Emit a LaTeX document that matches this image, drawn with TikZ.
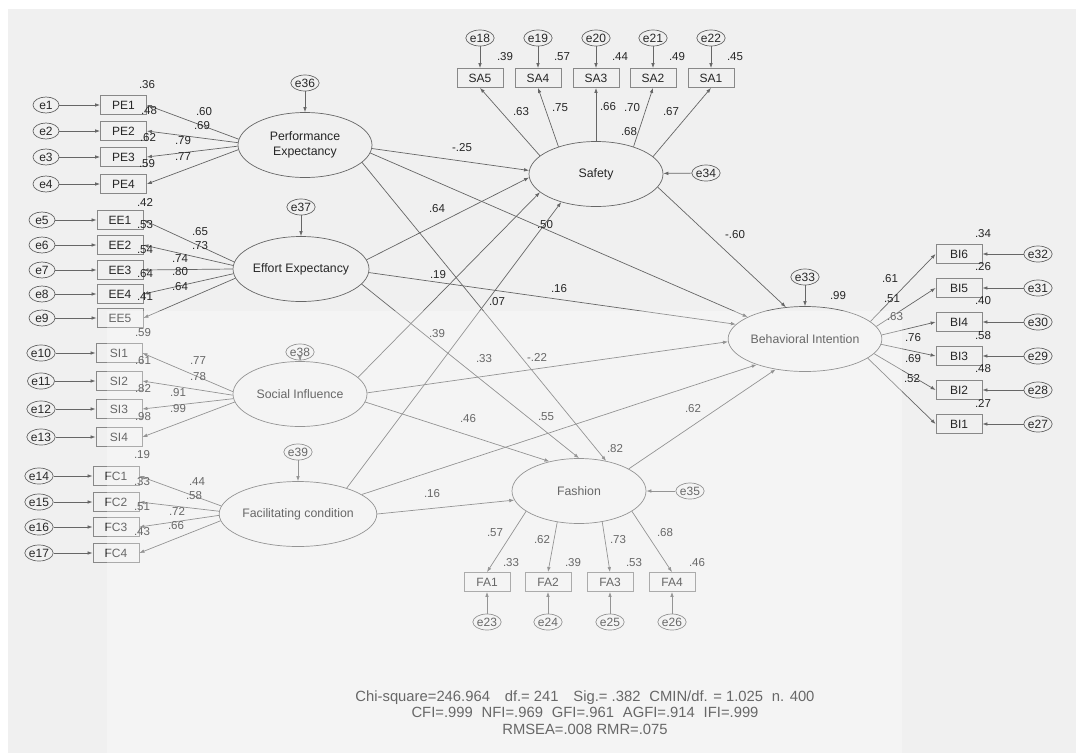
\documentclass[tikz,border=0pt]{standalone}
\usepackage{fontspec}
\setmainfont{Liberation Sans}
\usetikzlibrary{shapes.geometric,arrows.meta}
\definecolor{bgc}{HTML}{F0F0F0}
\definecolor{lc}{HTML}{666666}
\definecolor{bc}{HTML}{888888}
\definecolor{tc}{HTML}{262626}
\newcommand{\fnm}{\fontsize{12.3}{15}\selectfont}
\newcommand{\fbx}{\fontsize{12}{13}\selectfont}
\newcommand{\fnum}{\fontsize{11.5}{12}\selectfont}
\newcommand{\fbot}{\fontsize{14.8}{16.5}\selectfont}
\tikzset{
  lat/.style={ellipse, draw=lc, line width=0.7pt, minimum width=134pt, minimum height=65pt, inner sep=0pt, align=center, font=\fnm, text=tc},
  obs/.style={rectangle, draw=bc, line width=0.8pt, minimum width=46pt, minimum height=19pt, inner sep=0pt, font=\fbx, text=tc},
  err/.style={ellipse, draw=lc, line width=0.7pt, minimum width=26pt, minimum height=16pt, inner sep=0pt, font=\fbx, text=tc},
  num/.style={font=\fnum, text=tc, inner sep=0pt},
  arr/.style={draw=lc, line width=0.7pt, -{Latex[length=5pt,width=3.6pt]}},
}
\begin{document}
\begin{tikzpicture}[x=1pt,y=-1pt]
\useasboundingbox (0,0) rectangle (1077,753);
\fill[white] (0,0) rectangle (1077,753);
\fill[bgc] (8,9) rectangle (1076,753);

% latent variables
\node[lat] (PE) at (305,145) {Performance\\Expectancy};
\node[lat] (EE) at (301,269) {Effort Expectancy};
\node[lat] (SI) at (300,394) {Social Influence};
\node[lat] (FC) at (298,514) {Facilitating condition};
\node[lat] (SA) at (596,174) {Safety};
\node[lat] (BI) at (805,339) {Behavioral Intention};
\node[lat] (FA) at (579,491) {Fashion};

% PE indicators
\foreach \i/\y in {1/105,2/131,3/157,4/184}{
  \node[obs] (PE\i) at (123.5,\y) {PE\i};
  \node[err] (e\i) at (46,\y) {e\i};
  \draw[arr] (e\i) -- (PE\i);
}
% EE indicators
\foreach \i/\e/\y in {1/5/220,2/6/245,3/7/270,4/8/294,5/9/318}{
  \node[obs] (EE\i) at (120,\y) {EE\i};
  \node[err] (e\e) at (42,\y) {e\e};
  \draw[arr] (e\e) -- (EE\i);
}
% SI indicators
\foreach \i/\e/\y in {1/10/353,2/11/381,3/12/409,4/13/437}{
  \node[obs] (SI\i) at (119,\y) {SI\i};
  \node[err] (e\e) at (41,\y) {e\e};
  \draw[arr] (e\e) -- (SI\i);
}
% FC indicators
\foreach \i/\e/\y in {1/14/476,2/15/502,3/16/527,4/17/553}{
  \node[obs] (FC\i) at (116,\y) {FC\i};
  \node[err] (e\e) at (39,\y) {e\e};
  \draw[arr] (e\e) -- (FC\i);
}
% SA indicators
\foreach \i/\e/\x in {5/18/480,4/19/538,3/20/596,2/21/653,1/22/711}{
  \node[obs] (SA\i) at (\x,78) {SA\i};
  \node[err] (e\e) at (\x,38) {e\e};
  \draw[arr] (e\e) -- (SA\i);
}
% BI indicators
\foreach \i/\e/\y in {6/32/254,5/31/288,4/30/322,3/29/356,2/28/390,1/27/424}{
  \node[obs] (BI\i) at (959,\y) {BI\i};
  \node[err] (e\e) at (1038,\y) {e\e};
  \draw[arr] (e\e) -- (BI\i);
}
% FA indicators
\foreach \i/\e/\x in {1/23/487,2/24/548,3/25/610,4/26/672}{
  \node[obs] (FA\i) at (\x,582) {FA\i};
  \node[err] (e\e) at (\x,622) {e\e};
  \draw[arr] (e\e) -- (FA\i);
}

% disturbances
\node[err] (e33) at (805,277) {e33};
\node[err] (e34) at (706,173) {e34};
\node[err] (e35) at (690,491) {e35};
\node[err] (e36) at (305,83) {e36};
\node[err] (e37) at (301,207) {e37};
\node[err] (e38) at (300,352) {e38};
\node[err] (e39) at (298,452) {e39};
\draw[arr] (e33) -- (BI);
\draw[arr] (e34) -- (SA);
\draw[arr] (e35) -- (FA);
\draw[arr] (e36) -- (PE);
\draw[arr] (e37) -- (EE);
\draw[arr] (e38) -- (SI);
\draw[arr] (e39) -- (FC);

% measurement paths
\draw[arr] (PE.175) -- (PE1.east);
\draw[arr] (PE.178) -- (PE2.east);
\draw[arr] (PE.181) -- (PE3.east);
\draw[arr] (PE.184) -- (PE4.east);
\draw[arr] (EE.174) -- (EE1.east);
\draw[arr] (EE.177) -- (EE2.east);
\draw[arr] (EE.180) -- (EE3.east);
\draw[arr] (EE.184) -- (EE4.east);
\draw[arr] (EE.188) -- (EE5.east);
\draw[arr] (SI.178) -- (SI1.east);
\draw[arr] (SI.181) -- (SI2.east);
\draw[arr] (SI.184) -- (SI3.east);
\draw[arr] (SI.187) -- (SI4.east);
\draw[arr] (FC.174) -- (FC1.east);
\draw[arr] (FC.178) -- (FC2.east);
\draw[arr] (FC.181) -- (FC3.east);
\draw[arr] (FC.185) -- (FC4.east);
\draw[arr] (SA.162) -- (SA5.south);
\draw[arr] (SA.144) -- (SA4.south);
\draw[arr] (SA.90) -- (SA3.south);
\draw[arr] (SA.36) -- (SA2.south);
\draw[arr] (SA.17) -- (SA1.south);
\draw[arr] (BI.15) -- (BI6.west);
\draw[arr] (BI.10) -- (BI5.west);
\draw[arr] (BI.3) -- (BI4.west);
\draw[arr] (BI.-4) -- (BI3.west);
\draw[arr] (BI.-12) -- (BI2.west);
\draw[arr] (BI.-17) -- (BI1.west);
\draw[arr] (FA.201) -- (FA1.north);
\draw[arr] (FA.235) -- (FA2.north);
\draw[arr] (FA.-53) -- (FA3.north);
\draw[arr] (FA.-21) -- (FA4.north);

% structural paths
\draw[arr] (PE.-3) -- (SA.177);
\draw[arr] (PE.-7) -- (BI.159);
\draw[arr] (PE.-17) -- (FA.48);
\draw[arr] (EE.8) -- (SA.183);
\draw[arr] (EE.-3) -- (BI.168);
\draw[arr] (EE.-14) -- (FA.90);
\draw[arr] (SI.16) -- (SA.198);
\draw[arr] (SI.1) -- (BI.182);
\draw[arr] (SI.-7) -- (FA.135);
\draw[arr] (FC.28) -- (SA.219);
\draw[arr] (FC.17) -- (BI.208);
\draw[arr] (FC.0) -- (FA.188);
\draw[arr] (SA.-12) -- (BI.121);
\draw[arr] (FA.24) -- (BI.226);

% numbers
\foreach \x/\y/\t in {
 147/85/.36, 149/111/.48, 148/138/.62, 147/164/.59,
 204/112/.60, 202/126/.69, 183/141/.79, 183/157/.77,
 145/202/.42, 145/225/.53, 145/250/.54, 145/274/.64, 145/297/.41,
 200/232/.65, 200/246/.73, 180/259/.74, 180/272/.80, 180/287/.64,
 143/333/.59, 143/361/.61, 143/389/.82, 143/417/.98,
 198/361/.77, 198/377/.78, 178/393/.91, 178/409/.99,
 142/455/.19, 142/482/.33, 142/507/.51, 142/532/.43,
 197/482/.44, 194/496/.58, 177/511/.72, 176/526/.66,
 505/57/.39, 562/57/.57, 620/57/.44, 677/57/.49, 735/57/.45,
 521/112/.63, 560/108/.75, 608/107/.66, 632/108/.70, 671/112/.67, 629/132/.68,
 838/296/.99,
 983/234/.34, 983/267/.26, 983/301/.40, 983/336/.58, 983/369/.48, 983/403/.27,
 890/279/.61, 892/299/.51, 895/317/.63, 913/338/.76, 913/359/.69, 912/379/.52,
 615/449/.82,
 511/563/.33, 573/563/.39, 634/563/.53, 697/563/.46,
 495/533/.57, 542/540/.62, 618/540/.73, 665/533/.68,
 462/148/-.25, 437/209/.64, 545/225/.50, 438/275/.19, 559/289/.16,
 735/235/-.60, 497/302/.07, 437/334/.39, 484/359/.33, 537/357/-.22,
 468/419/.46, 546/417/.55, 693/409/.62, 432/494/.16}{
  \node[num] at (\x,\y) {\t};
}

% fit indices
\node[font=\fbot, text=tc, align=center, inner sep=0pt] (fit) at (585,712.5)
  {Chi-square=246.964\hspace{1em}df.= 241\hspace{1em}Sig.= .382\hspace{0.6em}CMIN/df. = 1.025\hspace{0.6em}n. 400\\
   CFI=.999\hspace{0.6em}NFI=.969\hspace{0.6em}GFI=.961\hspace{0.6em}AGFI=.914\hspace{0.6em}IFI=.999\\
   RMSEA=.008 RMR=.075};

% light watermark area
\fill[white, opacity=0.3] (107,311) rectangle (902,753);
\end{tikzpicture}
\end{document}
